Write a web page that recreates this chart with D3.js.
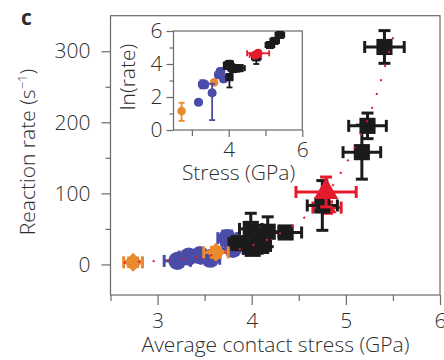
<!DOCTYPE html>
<html>
<head>
<meta charset="utf-8">
<script src="https://cdn.jsdelivr.net/npm/d3@7"></script>
<style>
  html, body { margin: 0; padding: 0; background: #fff; }
  svg { display: block; }
  text { font-family: "Open Sans", "Noto Sans", sans-serif; font-weight: 300; fill: #2e2e2e; }
</style>
</head>
<body>
<svg id="chart" width="444" height="360"></svg>
<script>
// ---- Main panel: reaction rate vs. average contact stress ----
const orangeX = [2.74, 3.62];
const orangeY = [3, 17];
const orangeXErr = [0.10, 0.13];
const orangeYErr = [6, 7];

const blueX = [3.21, 3.33, 3.45, 3.56, 3.74, 3.80];
const blueY = [5, 11, 13, 8, 37, 22];
const blueXErr = [0.14, 0.10, 0.10, 0.10, 0.10, 0.12];
const blueYErr = [5, 6, 6, 6, 10, 8];

const blackX = [3.86, 3.99, 4.06, 4.17, 4.36, 4.01, 4.10, 4.75, 5.17, 5.23, 5.41];
const blackY = [30, 50, 40, 46, 45, 22, 26, 83, 158, 195, 306];
const blackXErr = [0.10, 0.12, 0.12, 0.12, 0.17, 0.10, 0.10, 0.16, 0.20, 0.20, 0.21];
const blackYErr = [8, 22, 15, 21, 8, 8, 8, 35, 38, 18, 23];

// lower red point sits underneath the black squares, upper one on top
const redLowX = [4.80];
const redLowY = [80];
const redLowXErr = [0.15];
const redLowYErr = [8];
const redX = [4.79];
const redY = [102];
const redXErr = [0.32];
const redYErr = [21];

// exponential trend, sampled along the dotted curve
const fitX = [2.64, 2.80, 3.0, 3.25, 3.5, 3.75, 4.0, 4.25, 4.5, 4.75, 4.96, 5.12, 5.25, 5.35, 5.45, 5.52];
const fitY = [2.5, 3.7, 5, 7.6, 11.5, 17.4, 26.5, 40, 60, 91, 132, 172, 210, 249, 295, 328];

const mainXTicks = [3, 4, 5, 6];
const mainXMinor = [2.5, 3.5, 4.5, 5.5];
const mainYTicks = [0, 100, 200, 300];
const mainYMinor = [50, 150, 250];

// ---- Inset: ln(rate) vs. stress ----
const insetOrangeX = [2.72, 3.60];
const insetOrangeY = [1.15, 2.88];
const insetOrangeXErr = [0.04, 0.05];
const insetOrangeYErrLo = [0.6, 0.12];
const insetOrangeYErrHi = [0.5, 0.12];

const insetBlueX = [3.18, 3.29, 3.55, 3.72, 3.78, 3.86, 3.35];
const insetBlueY = [1.68, 2.77, 2.25, 3.35, 3.55, 3.10, 2.75];
const insetBlueXErr = [0.08, 0.10, 0.08, 0.08, 0.10, 0.08, 0.08];
const insetBlueYErrLo = [0.1, 0.25, 1.65, 0.2, 0.2, 0.2, 0.2];
const insetBlueYErrHi = [0.1, 0.25, 0.55, 0.2, 0.2, 0.2, 0.2];

const insetBlackX = [3.95, 4.02, 4.07, 4.12, 4.22, 4.30, 4.02, 4.75, 5.12, 5.25, 5.39];
const insetBlackY = [3.90, 4.00, 3.80, 3.70, 3.74, 3.75, 3.20, 4.40, 5.15, 5.40, 5.76];
const insetBlackXErr = [0.08, 0.10, 0.10, 0.10, 0.10, 0.14, 0.08, 0.12, 0.12, 0.12, 0.12];
const insetBlackYErrLo = [0.2, 0.2, 0.2, 0.2, 0.2, 0.1, 0.62, 0.4, 0.12, 0.1, 0.1];
const insetBlackYErrHi = [0.2, 0.2, 0.2, 0.2, 0.2, 0.1, 0.2, 0.2, 0.12, 0.1, 0.1];

const insetRedX = [4.72, 4.80];
const insetRedY = [4.55, 4.65];
const insetRedXErr = [0.15, 0.30];
const insetRedYErr = [0.1, 0.15];

const insetXTicks = [4, 6];
const insetXMinor = [3, 5];
const insetYTicks = [0, 2, 4, 6];
const insetYMinor = [1, 3, 5];

const COLORS = { orange: "#ea8a2e", blue: "#4a4ca8", black: "#1b1b1b", red: "#e31b2c" };
const AXIS = "#6a6a6a";
const FONT = 21;

const svg = d3.select("#chart");

// ---------- main scales ----------
const x = d3.scaleLinear().domain([2.5, 6]).range([110.5, 440]);
const y = d3.scaleLinear().domain([-43, 350]).range([295, 15.7]);

function styleAxis(g, fontSize) {
  g.select(".domain").remove();
  g.selectAll(".tick line").attr("stroke", AXIS).attr("stroke-width", 1.2);
  g.selectAll(".tick text").attr("fill", "#2e2e2e").style("font-size", fontSize + "px")
    .attr("font-family", null);
}

// axes (major with labels, minor without)
svg.append("g").attr("transform", `translate(0,${y.range()[0]})`)
  .call(d3.axisBottom(x).tickValues(mainXTicks).tickSize(10).tickPadding(8).tickFormat(d3.format("d")))
  .call(g => styleAxis(g, FONT));
svg.append("g").attr("transform", `translate(0,${y.range()[0]})`)
  .call(d3.axisBottom(x).tickValues(mainXMinor).tickSize(6).tickFormat(""))
  .call(g => styleAxis(g, FONT));
svg.append("g").attr("transform", `translate(${x.range()[0]},0)`)
  .call(d3.axisLeft(y).tickValues(mainYTicks).tickSize(9).tickPadding(11).tickFormat(d3.format("d")))
  .call(g => styleAxis(g, FONT));
svg.append("g").attr("transform", `translate(${x.range()[0]},0)`)
  .call(d3.axisLeft(y).tickValues(mainYMinor).tickSize(5).tickFormat(""))
  .call(g => styleAxis(g, FONT));

// frame
svg.append("rect")
  .attr("x", x.range()[0]).attr("y", y.range()[1])
  .attr("width", x.range()[1] - x.range()[0]).attr("height", y.range()[0] - y.range()[1])
  .attr("fill", "none").attr("stroke", AXIS).attr("stroke-width", 1.2);

// axis titles
svg.append("text").attr("x", 275.5).attr("y", 352)
  .attr("text-anchor", "middle").style("font-size", FONT + "px")
  .text("Average contact stress (GPa)");

const yt = svg.append("text")
  .attr("transform", "translate(35,152) rotate(-90)")
  .attr("text-anchor", "middle").style("font-size", FONT + "px");
yt.append("tspan").text("Reaction rate (s");
yt.append("tspan").attr("dy", "-8").style("font-size", "13px").text("\u22121");
yt.append("tspan").attr("dy", "8").text(")");

svg.append("text").attr("x", 21).attr("y", 24.5)
  .style("font-size", "21px").style("font-weight", "700").attr("fill", "#222").text("c");

// ---------- marker drawing ----------
function rows(xs, ys, xe, yeLo, yeHi) {
  return xs.map((v, i) => ({ x: v, y: ys[i], xe: xe[i], lo: yeLo[i], hi: (yeHi || yeLo)[i] }));
}

function errorBars(layer, data, sx, sy, color, width, cap) {
  const g = layer.append("g").attr("stroke", color).attr("stroke-width", width).attr("fill", "none");
  data.forEach(d => {
    const cx = sx(d.x), cy = sy(d.y);
    const x0 = sx(d.x - d.xe), x1 = sx(d.x + d.xe);
    const y0 = sy(d.y - d.lo), y1 = sy(d.y + d.hi);
    g.append("line").attr("x1", x0).attr("x2", x1).attr("y1", cy).attr("y2", cy);
    g.append("line").attr("x1", cx).attr("x2", cx).attr("y1", y0).attr("y2", y1);
    [x0, x1].forEach(px => g.append("line").attr("x1", px).attr("x2", px)
      .attr("y1", cy - cap).attr("y2", cy + cap));
    [y0, y1].forEach(py => g.append("line").attr("y1", py).attr("y2", py)
      .attr("x1", cx - cap).attr("x2", cx + cap));
  });
}

function markers(layer, data, sx, sy, color, symbolType, area, angle) {
  layer.append("g").selectAll("path").data(data).join("path")
    .attr("transform", d => `translate(${sx(d.x)},${sy(d.y)}) rotate(${angle || 0})`)
    .attr("d", d3.symbol().type(symbolType).size(area))
    .attr("fill", color);
}

const mainLayer = svg.append("g");
const series = [
  { d: rows(blueX, blueY, blueXErr, blueYErr), c: COLORS.blue, s: d3.symbolCircle, a: 260 },
  { d: rows(redLowX, redLowY, redLowXErr, redLowYErr), c: COLORS.red, s: d3.symbolTriangle, a: 160 },
  { d: rows(blackX, blackY, blackXErr, blackYErr), c: COLORS.black, s: d3.symbolSquare, a: 260 },
  { d: rows(orangeX, orangeY, orangeXErr, orangeYErr), c: COLORS.orange, s: d3.symbolSquare, a: 180, r: 45 },
  { d: rows(redX, redY, redXErr, redYErr), c: COLORS.red, s: d3.symbolTriangle, a: 260 }
];
series.forEach(s => {
  errorBars(mainLayer, s.d, x, y, s.c, 3, 6);
  markers(mainLayer, s.d, x, y, s.c, s.s, s.a, s.r);
});

// dotted exponential trend on top
svg.append("path")
  .datum(fitX.map((v, i) => [v, fitY[i]]))
  .attr("d", d3.line().x(d => x(d[0])).y(d => y(d[1])).curve(d3.curveMonotoneX))
  .attr("fill", "none").attr("stroke", COLORS.red).attr("stroke-width", 2)
  .attr("stroke-dasharray", "2 12.5");

// ---------- inset ----------
const ix = d3.scaleLinear().domain([2.5, 6]).range([173.5, 302.3]);
const iy = d3.scaleLinear().domain([0, 6]).range([130, 31]);

svg.append("rect")
  .attr("x", ix.range()[0]).attr("y", iy.range()[1])
  .attr("width", ix.range()[1] - ix.range()[0]).attr("height", iy.range()[0] - iy.range()[1])
  .attr("fill", "#fff").attr("stroke", AXIS).attr("stroke-width", 1.2);

svg.append("g").attr("transform", `translate(0,${iy.range()[0]})`)
  .call(d3.axisBottom(ix).tickValues(insetXTicks).tickSize(7).tickPadding(5).tickFormat(d3.format("d")))
  .call(g => styleAxis(g, FONT));
svg.append("g").attr("transform", `translate(0,${iy.range()[0]})`)
  .call(d3.axisBottom(ix).tickValues(insetXMinor).tickSize(6).tickFormat(""))
  .call(g => styleAxis(g, FONT));
svg.append("g").attr("transform", `translate(${ix.range()[0]},0)`)
  .call(d3.axisLeft(iy).tickValues(insetYTicks).tickSize(7).tickPadding(4).tickFormat(d3.format("d")))
  .call(g => styleAxis(g, FONT));
svg.append("g").attr("transform", `translate(${ix.range()[0]},0)`)
  .call(d3.axisLeft(iy).tickValues(insetYMinor).tickSize(4).tickFormat(""))
  .call(g => styleAxis(g, FONT));

svg.append("text").attr("x", 238.5).attr("y", 179.5)
  .attr("text-anchor", "middle").style("font-size", FONT + "px").text("Stress (GPa)");
svg.append("text").attr("transform", "translate(135,77) rotate(-90)")
  .attr("text-anchor", "middle").style("font-size", FONT + "px").text("ln(rate)");

const insetLayer = svg.append("g");
const insetSeries = [
  { d: rows(insetOrangeX, insetOrangeY, insetOrangeXErr, insetOrangeYErrLo, insetOrangeYErrHi), c: COLORS.orange, s: d3.symbolCircle, a: 60 },
  { d: rows(insetBlueX, insetBlueY, insetBlueXErr, insetBlueYErrLo, insetBlueYErrHi), c: COLORS.blue, s: d3.symbolCircle, a: 65 },
  { d: rows(insetBlackX, insetBlackY, insetBlackXErr, insetBlackYErrLo, insetBlackYErrHi), c: COLORS.black, s: d3.symbolSquare, a: 65 },
  { d: rows(insetRedX, insetRedY, insetRedXErr, insetRedYErr), c: COLORS.red, s: d3.symbolCircle, a: 65 }
];
insetSeries.forEach(s => {
  errorBars(insetLayer, s.d, ix, iy, s.c, 1.8, 3);
  markers(insetLayer, s.d, ix, iy, s.c, s.s, s.a);
});
</script>
</body>
</html>
